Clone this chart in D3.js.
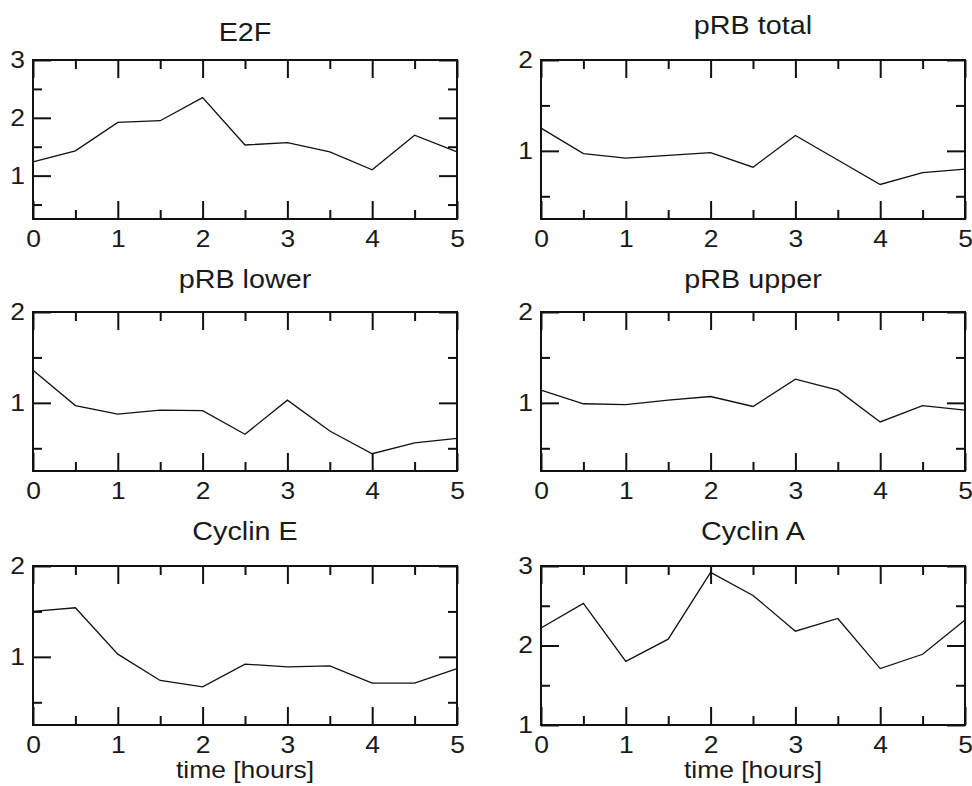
<!DOCTYPE html>
<html>
<head>
<meta charset="utf-8">
<script src="https://cdn.jsdelivr.net/npm/d3@7"></script>
<style>
body { margin: 0; background: #fff; }
text { font-family: "Liberation Sans", Arial, Helvetica, sans-serif; fill: #1a1a1a; }
.tick line { stroke: #111; stroke-width: 2; }
</style>
</head>
<body>
<svg id="chart" width="972" height="786"></svg>
<script>
// data
var times = [0, 0.5, 1, 1.5, 2, 2.5, 3, 3.5, 4, 4.5, 5];
var titles = ["E2F", "pRB total", "pRB lower", "pRB upper", "Cyclin E", "Cyclin A"];
var e2f      = [1.24, 1.43, 1.92, 1.95, 2.35, 1.53, 1.57, 1.41, 1.10, 1.70, 1.41];
var prbTotal = [1.25, 0.97, 0.92, 0.95, 0.98, 0.82, 1.17, 0.90, 0.63, 0.76, 0.80];
var prbLower = [1.36, 0.97, 0.875, 0.92, 0.915, 0.655, 1.03, 0.69, 0.44, 0.56, 0.61];
var prbUpper = [1.14, 0.99, 0.98, 1.03, 1.07, 0.96, 1.26, 1.14, 0.79, 0.97, 0.92];
var cyclinE  = [1.50, 1.54, 1.03, 0.74, 0.67, 0.92, 0.89, 0.90, 0.71, 0.71, 0.87];
var cyclinA  = [2.22, 2.53, 1.80, 2.08, 2.92, 2.63, 2.18, 2.34, 1.71, 1.89, 2.32];
var series = [e2f, prbTotal, prbLower, prbUpper, cyclinE, cyclinA];

var yDomains = [[0.25, 3], [0.25, 2], [0.25, 2], [0.25, 2], [0.25, 2], [1, 3]];
var yMajor = [[1, 2, 3], [1, 2], [1, 2], [1, 2], [1, 2], [1, 2, 3]];
var yMinor = [[0.5, 1.5, 2.5], [0.5, 1.5], [0.5, 1.5], [0.5, 1.5], [0.5, 1.5], [1.5, 2.5]];
var xMajor = [0, 1, 2, 3, 4, 5];
var xMinor = [0.5, 1.5, 2.5, 3.5, 4.5];
var xLabel = "time [hours]";

// layout
var colLeft = [33, 541];
var rowTop = [60, 312, 566];
var plotW = 424;
var plotH = 159;
var titleY = [41, 34, 288, 288, 540, 540];
var sx = 1.15;           // the figure's text is a bit wide
var majorLen = 18, minorLen = 9;

var svg = d3.select("#chart");
var x = d3.scaleLinear().domain([0, 5]).range([0, plotW]);

function styleAxis(sel, labels) {
	sel.select(".domain").remove();
	sel.attr("font-family", null).attr("font-size", 23);
	if (labels) sel.selectAll("text").attr("transform", "scale(" + sx + ",1)");
}

series.forEach(function(vals, i) {
	var col = i % 2, row = Math.floor(i / 2);
	var x0 = colLeft[col], y0 = rowTop[row];
	var y = d3.scaleLinear().domain(yDomains[i]).range([plotH, 0]);
	var g = svg.append("g").attr("transform", "translate(" + x0 + "," + y0 + ")");

	// 标题
	svg.append("text")
		.attr("transform", "translate(" + (x0 + plotW / 2) + "," + titleY[i] + ") scale(" + sx + ",1)")
		.style("text-anchor", "middle").style("font-size", "25px").text(titles[i]);

	// x axes, bottom with labels, top without
	g.append("g").attr("transform", "translate(0," + plotH + ")")
		.call(d3.axisBottom(x).tickValues(xMajor).tickSize(-majorLen).tickPadding(12).tickFormat(d3.format("d")))
		.call(styleAxis, true);
	g.append("g").attr("transform", "translate(0," + plotH + ")")
		.call(d3.axisBottom(x).tickValues(xMinor).tickSize(-minorLen).tickFormat(""))
		.call(styleAxis, false);
	g.append("g")
		.call(d3.axisTop(x).tickValues(xMajor).tickSize(-majorLen).tickFormat(""))
		.call(styleAxis, false);
	g.append("g")
		.call(d3.axisTop(x).tickValues(xMinor).tickSize(-minorLen).tickFormat(""))
		.call(styleAxis, false);

	// y axes
	g.append("g")
		.call(d3.axisLeft(y).tickValues(yMajor[i]).tickSize(-majorLen).tickPadding(7).tickFormat(d3.format("d")))
		.call(styleAxis, true);
	g.append("g")
		.call(d3.axisLeft(y).tickValues(yMinor[i]).tickSize(-minorLen).tickFormat(""))
		.call(styleAxis, false);
	g.append("g").attr("transform", "translate(" + plotW + ",0)")
		.call(d3.axisRight(y).tickValues(yMajor[i]).tickSize(-majorLen).tickFormat(""))
		.call(styleAxis, false);
	g.append("g").attr("transform", "translate(" + plotW + ",0)")
		.call(d3.axisRight(y).tickValues(yMinor[i]).tickSize(-minorLen).tickFormat(""))
		.call(styleAxis, false);

	// 数据线
	var line = d3.line().x(function(d, k) { return x(times[k]); }).y(function(d) { return y(d); });
	g.append("path").datum(vals)
		.attr("d", line).attr("fill", "none").attr("stroke", "#111").attr("stroke-width", 1.3);

	g.append("rect").attr("width", plotW).attr("height", plotH)
		.attr("fill", "none").attr("stroke", "#111").attr("stroke-width", 2);

	if (row == 2) {
		svg.append("text")
			.attr("transform", "translate(" + (x0 + plotW / 2) + ",778) scale(" + sx + ",1)")
			.style("text-anchor", "middle").style("font-size", "23px").text(xLabel);
	}
});
</script>
</body>
</html>
